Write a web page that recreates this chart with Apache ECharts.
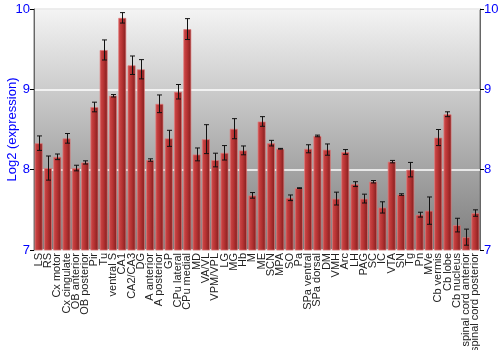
<!DOCTYPE html>
<html><head><meta charset="utf-8">
<script src="https://cdn.jsdelivr.net/npm/echarts@6/dist/echarts.min.js"></script>
<style>html,body{margin:0;padding:0;background:#fff}#c{width:500px;height:350px}</style>
</head><body><div id="c"></div>
<script>
const categories = ["LS","RS","Cx motor","Cx cingulate","OB anterior","OB posterior","Pir","Tu","ventral S","CA1","CA2/CA3","DG","A anterior","A posterior","GP","CPu lateral","CPu medial","MD","VA/VL","VPM/VPL","LG","MG","Hb","M","ME","SCN","MPA","SO","Pa","SPa ventral","SPa dorsal","DM","VMH","Arc","LH","PAG","SC","IC","VTA","SN","Tg","Pn","MVe","Cb vermis","Cb lobe","Cb nucleus","spinal cord anterior","spinal cord posterior"];
const values = [8.33,8.02,8.16,8.39,8.02,8.09,8.78,9.49,8.92,9.89,9.30,9.25,8.12,8.82,8.39,8.97,9.75,8.19,8.38,8.12,8.21,8.51,8.24,7.68,8.60,8.33,8.26,7.65,7.77,8.26,8.42,8.25,7.64,8.22,7.82,7.64,7.85,7.53,8.10,7.69,8.00,7.44,7.49,8.40,8.69,7.31,7.16,7.46];
const errors = [0.09,0.15,0.035,0.06,0.035,0.02,0.06,0.125,0.015,0.065,0.115,0.12,0.015,0.11,0.1,0.09,0.13,0.08,0.18,0.085,0.09,0.125,0.055,0.035,0.06,0.035,0.005,0.035,0.005,0.05,0.01,0.07,0.08,0.03,0.03,0.055,0.015,0.07,0.015,0.01,0.09,0.03,0.17,0.1,0.03,0.085,0.1,0.04];
const yTicks = [7,8,9,10];

const chart = echarts.init(document.getElementById('c'), null, {renderer:'canvas'});
const font = '"Liberation Sans", Arial, sans-serif';
const yAxisCommon = {
  type:'value', min:7, max:10, interval:1,
  axisLine:{show:true, lineStyle:{color:'#666', width:1}},
  axisTick:{show:true, length:4, lineStyle:{color:'#000'}},
  axisLabel:{color:'#0000ff', fontSize:13, fontFamily:font, margin:4},
  splitLine:{show:false}
};
chart.setOption({
  animation:false,
  grid:{left:34, right:20, top:9, bottom:100, show:true, containLabel:false, outerBoundsMode:'none',
    borderColor:'#777', borderWidth:1,
    backgroundColor:new echarts.graphic.LinearGradient(0,0,0,1,[{offset:0,color:'#f4f4f4'},{offset:1,color:'#7c7c7c'}])},
  xAxis:{type:'category', data:categories,
    axisLine:{show:false}, axisTick:{show:false},
    axisLabel:{interval:0, rotate:90, fontSize:11, color:'#222', fontFamily:font, margin:3}},
  yAxis:[
    Object.assign({}, yAxisCommon, {position:'left', name:'Log2 (expression)', nameLocation:'middle', nameGap:15, nameMoveOverlap:false,
      nameTextStyle:{color:'#0000ff', fontSize:13, fontFamily:font},
      splitLine:{show:true, lineStyle:{color:'#ffffff', width:1.5}}}),
    Object.assign({}, yAxisCommon, {position:'right'})
  ],
  series:[
    {type:'bar', data:values, barCategoryGap:'12%',
      itemStyle:{
        color:new echarts.graphic.LinearGradient(0,0,1,0,[{offset:0,color:'#d04c4c'},{offset:0.45,color:'#b83434'},{offset:1,color:'#7e1c1c'}]),
        borderColor:'rgba(225,120,120,0.7)', borderWidth:1}},
    {type:'custom', data:values.map((v,i)=>[i, v-errors[i], v+errors[i]]),
      renderItem:function(params, api){
        const x = api.value(0);
        const lo = api.coord([x, api.value(1)]);
        const hi = api.coord([x, api.value(2)]);
        const cx = Math.round(lo[0])+0.5;
        const w = 2.5;
        const st = {stroke:'#111', lineWidth:1};
        return {type:'group', children:[
          {type:'line', shape:{x1:cx, y1:hi[1], x2:cx, y2:lo[1]}, style:st},
          {type:'line', shape:{x1:cx-w, y1:hi[1], x2:cx+w, y2:hi[1]}, style:st},
          {type:'line', shape:{x1:cx-w, y1:lo[1], x2:cx+w, y2:lo[1]}, style:st}
        ]};
      }, z:5}
  ]
});
</script></body></html>
